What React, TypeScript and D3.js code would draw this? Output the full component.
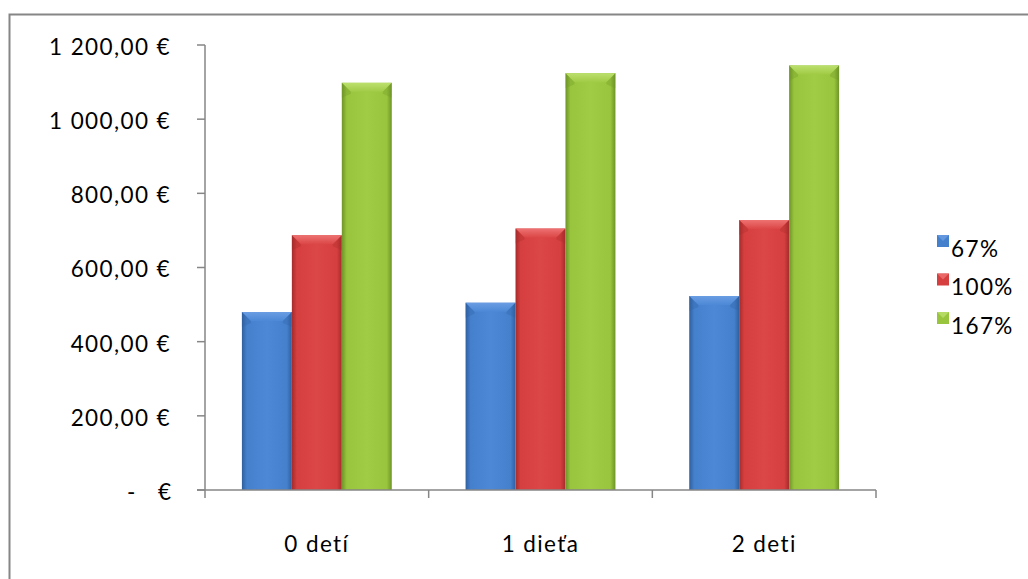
import React from "react";
import * as d3 from "d3";

const categories = ["0 detí", "1 dieťa", "2 deti"];
const seriesNames = ["67%", "100%", "167%"];
const values67 = [480, 505, 523];
const values100 = [687, 705, 728];
const values167 = [1098, 1124, 1145];
const yTicks = [0, 200, 400, 600, 800, 1000, 1200];

const seriesValues = [values67, values100, values167];
const palette = [
  { base: "#4580CD", light: "#6A9DE3", mid: "#4C88D6", dark: "#2F609F" },
  { base: "#D63F3F", light: "#EE7272", mid: "#DB4646", dark: "#A52B2B" },
  { base: "#98C53D", light: "#BDE06E", mid: "#A0CB45", dark: "#6E9428" },
];

const fmt = (v: number) => {
  const s = d3.format(",.2f")(v);
  return s.replace(/,/g, " ").replace(".", ",") + " €";
};

export default function App() {
  const W = 1028, H = 579;
  const left = 205, right = 876, top = 45, bottom = 490;
  const x0 = d3.scaleBand<string>().domain(categories).range([left, right]).paddingInner(0).paddingOuter(0);
  const y = d3.scaleLinear().domain([0, 1200]).range([bottom, top]);
  const groupPad = 0.165;
  const x1 = d3.scaleBand<number>().domain([0, 1, 2]).range([0, x0.bandwidth() * (1 - 2 * groupPad)]);
  const font = "Lato, 'Open Sans', sans-serif";
  const fs = 22.5;
  const ls = 1.4;
  const bevel = 9;

  return (
    <svg width={W} height={H} style={{ position: "absolute", left: 0, top: 0, background: "#fff" }}>
      <defs>
        {palette.map((p, i) => (
          <linearGradient key={i} id={`g${i}`} x1="0" x2="1" y1="0" y2="0">
            <stop offset="0" stopColor={p.dark} />
            <stop offset="0.1" stopColor={p.base} />
            <stop offset="0.5" stopColor={p.mid} />
            <stop offset="0.9" stopColor={p.base} />
            <stop offset="1" stopColor={p.dark} />
          </linearGradient>
        ))}
        {palette.map((p, i) => (
          <linearGradient key={"b" + i} id={`bv${i}`} x1="0" x2="0" y1="0" y2="1">
            <stop offset="0" stopColor={p.light} />
            <stop offset="1" stopColor={p.mid} />
          </linearGradient>
        ))}
      </defs>
      <rect x={9.5} y={14.5} width={1030} height={580} fill="#fff" stroke="#868686" strokeWidth={2} />
      {/* y axis */}
      <line x1={left} x2={left} y1={top} y2={bottom} stroke="#868686" strokeWidth={1.5} />
      {yTicks.map((t) => (
        <g key={t}>
          <line x1={left - 8} x2={left} y1={y(t)} y2={y(t)} stroke="#868686" strokeWidth={1.5} />
          {t === 0 ? (
            <text y={y(t) + 2} dy="0.35em" fontFamily={font} fontSize={fs} fill="#000">
              <tspan x={127}>-</tspan>
              <tspan x={171} textAnchor="end">€</tspan>
            </text>
          ) : (
            <text x={171} y={y(t) + 2} dy="0.35em" textAnchor="end" fontFamily={font} fontSize={fs} letterSpacing={ls} fill="#000">
              {fmt(t)}
            </text>
          )}
        </g>
      ))}
      {/* bars */}
      {categories.map((c, ci) => (
        <g key={c} transform={`translate(${x0(c)! + x0.bandwidth() * groupPad},0)`}>
          {seriesValues.map((vals, si) => {
            const bx = x1(si)!;
            const bw = x1.bandwidth();
            const by = y(vals[ci]);
            const bh = bottom - by;
            const p = palette[si];
            return (
              <g key={si}>
                <rect x={bx} y={by} width={bw} height={bh} fill={`url(#g${si})`} />
                <polygon
                  points={`${bx},${by} ${bx + bw},${by} ${bx + bw - bevel},${by + bevel} ${bx + bevel},${by + bevel}`}
                  fill={`url(#bv${si})`}
                />
                <polygon
                  points={`${bx},${by} ${bx + bevel},${by + bevel} ${bx + bevel},${by + bevel + 2} ${bx},${by + bevel + 6}`}
                  fill={p.dark}
                  opacity={0.3}
                />
                <polygon
                  points={`${bx + bw},${by} ${bx + bw - bevel},${by + bevel} ${bx + bw - bevel},${by + bevel + 2} ${bx + bw},${by + bevel + 6}`}
                  fill={p.dark}
                  opacity={0.3}
                />
              </g>
            );
          })}
        </g>
      ))}
      {/* x axis */}
      <line x1={left - 8} x2={right} y1={bottom} y2={bottom} stroke="#868686" strokeWidth={1.5} />
      {[...categories.map((c) => x0(c)!), right].map((xx, i) => (
        <line key={i} x1={xx} x2={xx} y1={bottom} y2={bottom + 8} stroke="#868686" strokeWidth={1.5} />
      ))}
      {categories.map((c) => (
        <text key={c} x={x0(c)! + x0.bandwidth() / 2} y={544} dy="0.35em" textAnchor="middle" fontFamily={font} fontSize={fs} letterSpacing={ls} fill="#000">
          {c}
        </text>
      ))}
      {/* legend */}
      {seriesNames.map((n, i) => {
        const ly = 241 + i * 38.5;
        const p = palette[i];
        return (
          <g key={n}>
            <rect x={937} y={ly - 6} width={12} height={12} fill={p.base} />
            <polygon points={`${937},${ly - 6} ${949},${ly - 6} ${943},${ly}`} fill={p.light} opacity={0.8} />
            <text x={951} y={ly + 8} dy="0.35em" fontFamily={font} fontSize={fs} letterSpacing={ls} fill="#000">
              {n}
            </text>
          </g>
        );
      })}
    </svg>
  );
}
